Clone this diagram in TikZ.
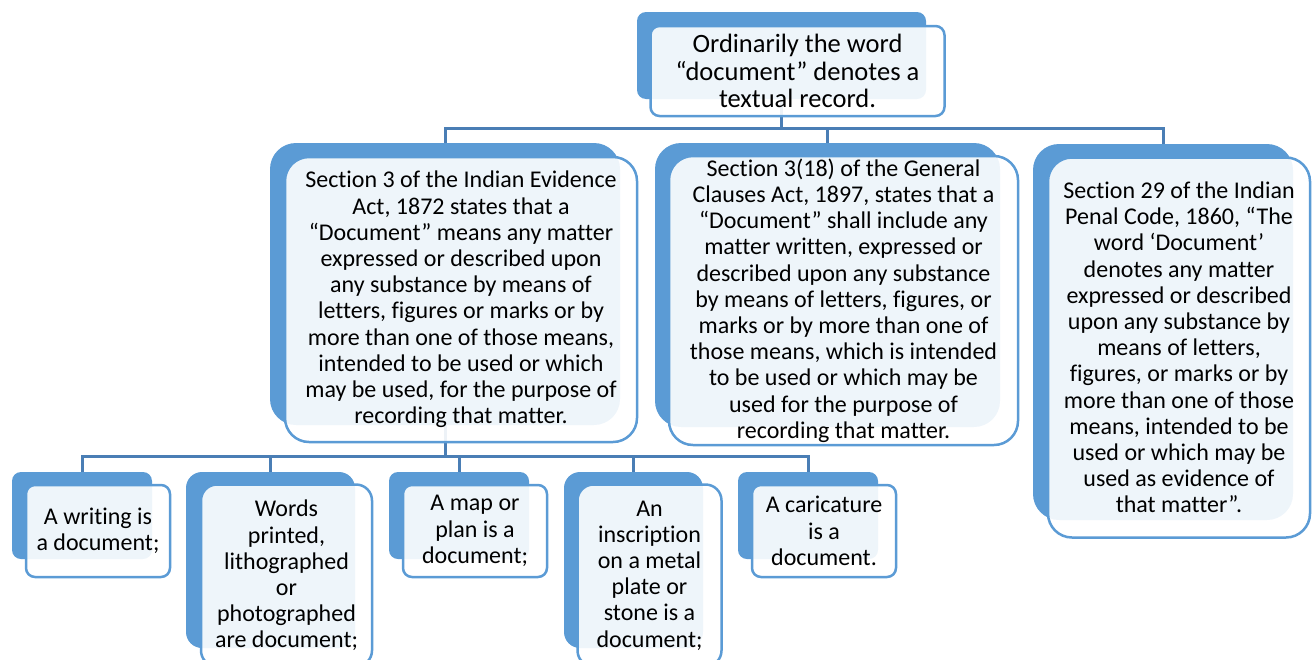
\documentclass[tikz,border=0pt]{standalone}
\usepackage{fontspec}
\setmainfont{Carlito}[Ligatures={NoCommon}]
\usepackage{tikz}
\usetikzlibrary{positioning,calc,backgrounds}
\definecolor{boxblue}{HTML}{5B9BD5}
\definecolor{lineblue}{HTML}{4A7EB5}

\begin{document}
\begin{tikzpicture}[x=1pt, y=-1pt, font=\fontsize{24}{26.2}\selectfont,
  back/.style={fill=boxblue, inner sep=0pt},
  front/.style={draw=boxblue, line width=2.5pt, fill=white, fill opacity=0.9,
    text opacity=1, inner sep=0pt, align=center, xshift=16pt, yshift=-15.5pt},
  link/.style={draw=lineblue, line width=3pt}]
  \useasboundingbox (0,0) rectangle (1316,659);
  \clip (0,0) rectangle (1316,659);

  % top
  \node[back, minimum width=289, minimum height=87, rounded corners=9] (topB) at (781.5,55.5) {};
  \node[front, minimum width=294, minimum height=90, rounded corners=9,
    font=\fontsize{26.5}{27.5}\selectfont] (top) at (topB)
    {Ordinarily the word\\“document” denotes a\\textual record.};

  % middle row
  \node[back, minimum width=350, minimum height=282, rounded corners=26] (ieaB) at (445,284) {};
  \node[front, minimum width=352, minimum height=285, rounded corners=24] (iea) at (ieaB)
    {Section 3 of the Indian Evidence\\Act, 1872 states that a\\“Document” means any matter\\
     expressed or described upon\\any substance by means of\\letters, figures or marks or by\\
     more than one of those means,\\intended to be used or which\\
     may be used, for the purpose of\\recording that matter.};
  \node[back, minimum width=345, minimum height=284, rounded corners=26] (gcaB) at (827.5,285) {};
  \node[front, minimum width=349, minimum height=289, rounded corners=24] (gca) at (gcaB)
    {Section 3(18) of the General\\Clauses Act, 1897, states that a\\“Document” shall include any\\
     matter written, expressed or\\described upon any substance\\by means of letters, figures, or\\
     marks or by more than one of\\those means, which is intended\\to be used or which may be\\
     used for the purpose of\\recording that matter.};
  \node[back, minimum width=260, minimum height=376, rounded corners=26] (ipcB) at (1163,332) {};
  \node[front, minimum width=262, minimum height=380, rounded corners=24] (ipc) at (ipcB)
    {Section 29 of the Indian\\Penal Code, 1860, “The\\word ‘Document’\\denotes any matter\\
     expressed or described\\upon any substance by\\means of letters,\\figures, or marks or by\\
     more than one of those\\means, intended to be\\used or which may be\\
     used as evidence of\\that matter”.};

  % bottom row
  \node[back, minimum width=140, minimum height=87, rounded corners=9] (w1B) at (82,515.5) {};
  \node[front, minimum width=144, minimum height=92, rounded corners=9] (w1) at (w1B)
    {A writing is\\a document;};
  \node[back, minimum width=169, minimum height=176, rounded corners=16] (w2B) at (270.5,560) {};
  \node[front, minimum width=171, minimum height=182, rounded corners=16] (w2) at (w2B)
    {Words\\printed,\\lithographed\\or\\photographed\\are document;};
  \node[back, minimum width=140, minimum height=87, rounded corners=9] (w3B) at (459,515.5) {};
  \node[front, minimum width=144, minimum height=92, rounded corners=9] (w3) at (w3B)
    {A map or\\plan is a\\document;};
  \node[back, minimum width=139, minimum height=176, rounded corners=16] (w4B) at (633.5,560) {};
  \node[front, minimum width=144, minimum height=182, rounded corners=16] (w4) at (w4B)
    {An\\inscription\\on a metal\\plate or\\stone is a\\document;};
  \node[back, minimum width=140, minimum height=87, rounded corners=9] (w5B) at (808,515.5) {};
  \node[front, minimum width=144, minimum height=92, rounded corners=9] (w5) at (w5B)
    {A caricature\\is a\\document.};

  % connectors
  \coordinate (bar1) at (0,128);
  \coordinate (bar2) at (0,456);
  \begin{pgfonlayer}{background}
    \draw[link] (topB.south) -- (topB.south |- bar1);
    \draw[link] (ieaB.north) -- (ieaB.north |- bar1) -- (ipcB.north |- bar1) -- (ipcB.north);
    \draw[link] (gcaB.north) -- (gcaB.north |- bar1);
    \draw[link] (ieaB.south) -- (ieaB.south |- bar2);
    \draw[link] (w1B.north) -- (w1B.north |- bar2) -- (w5B.north |- bar2) -- (w5B.north);
    \foreach \c in {w2B,w3B,w4B}
      \draw[link] (\c.north) -- (\c.north |- bar2);
  \end{pgfonlayer}
\end{tikzpicture}
\end{document}
